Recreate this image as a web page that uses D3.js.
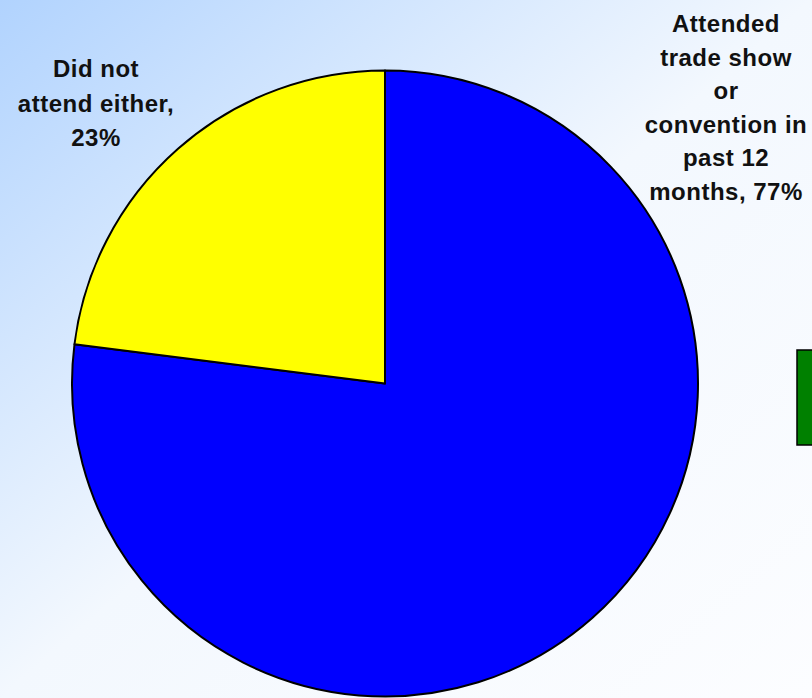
<!DOCTYPE html>
<html>
<head>
<meta charset="utf-8">
<title>Trade show attendance</title>
<script src="https://cdn.jsdelivr.net/npm/d3@7/dist/d3.min.js"></script>
<style>
  html, body { margin: 0; padding: 0; overflow: hidden; }
  text { font-family: "Liberation Sans", Arial, sans-serif; font-weight: bold; font-size: 24px; fill: #111; letter-spacing: 0.5px; }
</style>
</head>
<body>
<div id="chart"></div>
<script>
// data
var categories = ["Attended trade show or convention in past 12 months", "Did not attend either"];
var values = [77, 23];
var sliceColors = ["#0000ff", "#ffff00"];
var labelLines = [
  ["Attended", "trade show", "or", "convention in", "past 12", "months, 77%"],
  ["Did not", "attend either,", "23%"]
];

var width = 812, height = 698;
var cx = 385, cy = 383.5, radius = 313;

var svg = d3.select("#chart").append("svg")
  .attr("width", width)
  .attr("height", height);

// background gradient, light blue top-left fading to white
var grad = svg.append("defs").append("linearGradient")
  .attr("id", "bg")
  .attr("x1", 0).attr("y1", 0).attr("x2", 1).attr("y2", 1);
grad.append("stop").attr("offset", "0%").attr("stop-color", "#b1d3fe");
grad.append("stop").attr("offset", "50%").attr("stop-color", "#f3f8fe");
grad.append("stop").attr("offset", "100%").attr("stop-color", "#fcfdff");

svg.append("rect")
  .attr("width", width).attr("height", height)
  .attr("fill", "url(#bg)");

// pie, starting at 12 o'clock clockwise
var pie = d3.pie().sort(null).value(function(d) { return d; });
var arc = d3.arc().innerRadius(0).outerRadius(radius);

var g = svg.append("g").attr("transform", "translate(" + cx + "," + cy + ")");
g.selectAll("path").data(pie(values)).enter().append("path")
  .attr("d", arc)
  .attr("fill", function(d, i) { return sliceColors[i]; })
  .attr("stroke", "#000")
  .attr("stroke-width", 2)
  .attr("stroke-linejoin", "round");

// data labels
var labelPos = [
  { x: 726, y: 32, step: 33.6 },
  { x: 96, y: 77, step: 34.5 }
];
labelLines.forEach(function(lines, i) {
  var t = svg.append("text")
    .attr("text-anchor", "middle")
    .attr("x", labelPos[i].x)
    .attr("y", labelPos[i].y);
  lines.forEach(function(line, j) {
    t.append("tspan")
      .attr("x", labelPos[i].x)
      .attr("y", labelPos[i].y + j * labelPos[i].step)
      .text(line);
  });
});

// legend key cut off at right edge
svg.append("rect")
  .attr("x", 797).attr("y", 350)
  .attr("width", 40).attr("height", 95)
  .attr("fill", "#008000")
  .attr("stroke", "#000")
  .attr("stroke-width", 1.5);
</script>
</body>
</html>
